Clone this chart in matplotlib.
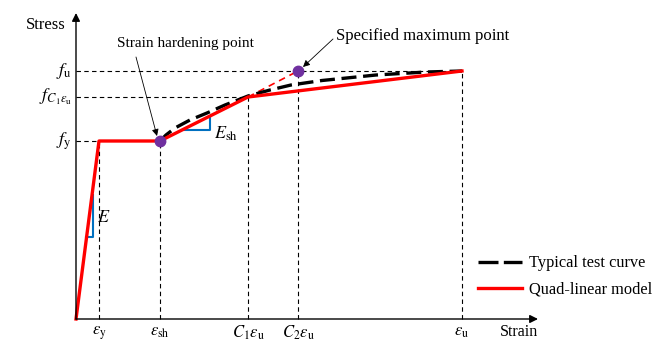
import numpy as np
import matplotlib.pyplot as plt

plt.rcParams['font.family'] = ['Liberation Serif', 'DejaVu Serif']
plt.rcParams['mathtext.fontset'] = 'stix'

# %% data (schematic units: strain / stress)
eps_y, eps_sh, c1_eps_u, c2_eps_u, eps_u = 23, 84, 172, 222, 386
f_y, f_c1, f_u = 178, 222, 248

# quad-linear model
model_x = [0, eps_y, eps_sh, c1_eps_u, eps_u]
model_y = [0, f_y, f_y, f_c1, f_u]

# typical test curve
test_x = [84, 90, 99, 114, 131, 149, 172, 194, 215, 246, 300, 350, 386]
test_y = [178, 184, 191, 199, 206, 214, 223, 229, 234, 238.5, 244, 247, 248]

x_ticks = [eps_y, eps_sh, c1_eps_u, c2_eps_u, eps_u]
x_ticklabels = [r'$\varepsilon_\mathrm{y}$', r'$\varepsilon_\mathrm{sh}$',
                r'$C_1\varepsilon_\mathrm{u}$', r'$C_2\varepsilon_\mathrm{u}$',
                r'$\varepsilon_\mathrm{u}$']
y_ticks = [f_y, f_c1, f_u]
y_ticklabels = [r'$f_\mathrm{y}$', r'$f_{C_1\varepsilon_\mathrm{u}}$', r'$f_\mathrm{u}$']

# %% figure
fig = plt.figure(figsize=(6.6, 3.41), dpi=100)
ax = fig.add_axes([0, 0, 1, 1])
ax.set_xlim(-76, 584)
ax.set_ylim(-22, 319)
ax.axis('off')

# axes with arrows
ax.annotate('', xy=(462, 0), xytext=(0, 0),
            arrowprops=dict(arrowstyle='-|>', color='k', lw=1.0,
                            mutation_scale=12, shrinkA=0, shrinkB=0))
ax.annotate('', xy=(0, 306), xytext=(0, 0),
            arrowprops=dict(arrowstyle='-|>', color='k', lw=1.0,
                            mutation_scale=12, shrinkA=0, shrinkB=0))
ax.text(462, -13, 'Strain', fontsize=11.5, ha='right', va='center')
ax.text(-10, 294, 'Stress', fontsize=12, ha='right', va='center')

# guide lines
gl = dict(color='k', lw=0.8, ls=(0, (4, 3)))
ax.plot([0, eps_y], [f_y, f_y], **gl)
ax.plot([0, c1_eps_u], [f_c1, f_c1], **gl)
ax.plot([0, eps_u], [f_u, f_u], **gl)
ax.plot([eps_y, eps_y], [0, f_y], **gl)
ax.plot([eps_sh, eps_sh], [0, f_y], **gl)
ax.plot([c1_eps_u, c1_eps_u], [0, f_c1], **gl)
ax.plot([c2_eps_u, c2_eps_u], [0, f_u], **gl)
ax.plot([eps_u, eps_u], [0, f_u], **gl)

# tick labels
for x, lab in zip(x_ticks, x_ticklabels):
    ax.text(x, -5, lab, fontsize=12, ha='center', va='top')
for y, lab in zip(y_ticks, y_ticklabels):
    ax.text(-4, y, lab, fontsize=13, ha='right', va='center')

# slope triangles
blue = '#0070C0'
ax.plot([10, 17, 17], [82, 82, 124], color=blue, lw=1.5)
ax.text(21, 101, r'$E$', fontsize=13, va='center')
ax.plot([108, 134, 134], [189.5, 189.5, 201], color=blue, lw=1.5)
ax.text(138, 185, r'$E_\mathrm{sh}$', fontsize=13, va='center')

# curves
ax.plot([c1_eps_u, c2_eps_u], [f_c1, f_u], color='red', lw=1.2, ls=(0, (4, 3)))
ax.plot(test_x, test_y, color='k', lw=2.4, ls=(0, (4.5, 2)),
        label='Typical test curve')
ax.plot(model_x, model_y, color='red', lw=2.4, label='Quad-linear model')
ax.plot([eps_sh, c2_eps_u], [f_y, f_u], 'o', color='#7030A0', ms=7.5, zorder=5)

# annotations
arrow = dict(arrowstyle='-|>', color='k', lw=0.6, mutation_scale=10,
             shrinkA=0, shrinkB=0)
ax.text(41, 276, 'Strain hardening point', fontsize=11, ha='left', va='center')
ax.annotate('', xy=(81, 183), xytext=(60, 262), arrowprops=arrow)
ax.text(260, 283, 'Specified maximum point', fontsize=12, ha='left', va='center')
ax.annotate('', xy=(227, 252), xytext=(257, 280), arrowprops=arrow)

leg = ax.legend(loc='lower left', bbox_to_anchor=(463 / 660, 29 / 341),
                frameon=False, fontsize=11.8, handlelength=2.7,
                handletextpad=0.4, labelspacing=0.6)
for h in leg.get_lines():
    if h.get_color() == 'k':
        h.set_linestyle((0, (6, 1.6)))

fig.savefig('out.png', dpi=100)
